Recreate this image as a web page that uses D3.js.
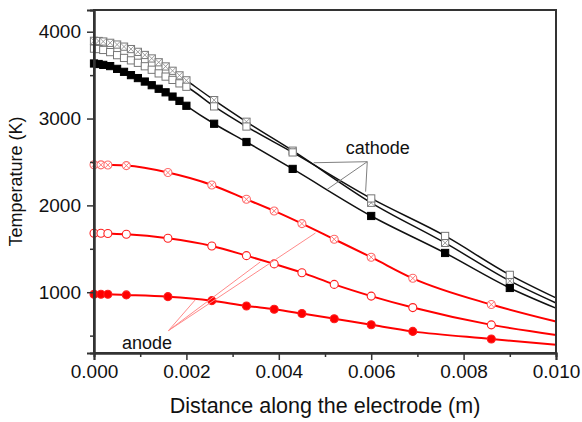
<!DOCTYPE html>
<html>
<head>
<meta charset="utf-8">
<script src="https://cdn.jsdelivr.net/npm/d3@7"></script>
<style>
  html, body { margin: 0; padding: 0; background: #fff; }
  svg { display: block; font-family: Arial, "Liberation Sans", sans-serif; }
</style>
</head>
<body>
<svg id="chart" width="582" height="422"></svg>
<script>
// cathode curves (K), sampled at cathodeX (m)
const cathodeX = [0, 0.0001, 0.0002, 0.00035, 0.0005, 0.00065, 0.0008, 0.00095, 0.0011, 0.00125,
  0.0014, 0.00155, 0.0017, 0.00185, 0.002, 0.0026, 0.0033, 0.0043, 0.006, 0.0076, 0.009];
const cathodeCrossed = [3895, 3893, 3887, 3872, 3852, 3828, 3800, 3768, 3732, 3692,
  3648, 3600, 3550, 3497, 3440, 3212, 2963, 2630, 2030, 1568, 1130];
const cathodeOpen = [3805, 3800, 3790, 3765, 3730, 3698, 3670, 3642, 3602, 3562,
  3520, 3483, 3445, 3405, 3366, 3140, 2908, 2610, 2080, 1648, 1200];
const cathodeFilled = [3634, 3628, 3618, 3604, 3572, 3538, 3500, 3466, 3426, 3384,
  3343, 3302, 3253, 3203, 3147, 2940, 2730, 2420, 1878, 1452, 1049];

// anode curves (K), sampled at anodeX (m)
const anodeX = [0, 0.00015, 0.0003, 0.0007, 0.0016, 0.00255, 0.0033, 0.0039, 0.0045, 0.0052, 0.006, 0.0069, 0.0086];
const anodeCrossed = [2468, 2467, 2465, 2458, 2378, 2235, 2070, 1936, 1790, 1610, 1403, 1160, 858];
const anodeOpen = [1679, 1679, 1676, 1667, 1621, 1533, 1421, 1326, 1225, 1090, 955, 823, 624];
const anodeFilled = [977, 977, 976, 969, 949, 903, 842, 804, 755, 695, 625, 549, 462];

// where the curves leave the frame at x = 0.010
const endX = 0.010;
const endValues = { cathodeCrossed: 876, cathodeOpen: 934, cathodeFilled: 816,
  anodeCrossed: 662, anodeOpen: 508, anodeFilled: 394 };

const xTicks = [0, 0.002, 0.004, 0.006, 0.008, 0.010];
const xMinor = [0.001, 0.003, 0.005, 0.007, 0.009];
const yTicks = [1000, 2000, 3000, 4000];
const yMinor = [500, 1500, 2500, 3500];

// annotation pointers: [apex, targets...] in data units
const cathodeNote = { label: "cathode", apex: [0.005915, 2503],
  targets: [[0.004757, 2491], [0.005048, 2185], [0.005879, 2158]] };
const anodeNote = { label: "anode", apex: [0.001612, 558],
  targets: [[0.00219, 911], [0.0036, 1349], [0.004794, 1682]] };

const svg = d3.select("#chart");
const margin = { left: 94, top: 10, right: 26, bottom: 69 };
const width = 582 - margin.left - margin.right;
const height = 422 - margin.top - margin.bottom;

const x = d3.scaleLinear().domain([0, 0.010]).range([0, width]);
const y = d3.scaleLinear().domain([300, 4250]).range([height, 0]);

const g = svg.append("g").attr("transform", `translate(${margin.left},${margin.top})`);

const series = [
  { key: "cathodeCrossed", xs: cathodeX, ys: cathodeCrossed, line: "#111", lw: 1.5, marker: "sqCross" },
  { key: "cathodeOpen", xs: cathodeX, ys: cathodeOpen, line: "#111", lw: 1.5, marker: "sqOpen" },
  { key: "cathodeFilled", xs: cathodeX, ys: cathodeFilled, line: "#111", lw: 1.5, marker: "sqFilled" },
  { key: "anodeCrossed", xs: anodeX, ys: anodeCrossed, line: "#ff0000", lw: 2, marker: "ciCross" },
  { key: "anodeOpen", xs: anodeX, ys: anodeOpen, line: "#ff0000", lw: 2, marker: "ciOpen" },
  { key: "anodeFilled", xs: anodeX, ys: anodeFilled, line: "#ff0000", lw: 2, marker: "ciFilled" },
];

const lineGen = d3.line()
  .x((d) => x(d[0]))
  .y((d) => y(d[1]))
  .curve(d3.curveMonotoneX);

const linesLayer = g.append("g");
const markersLayer = g.append("g");

series.forEach((s) => {
  const pts = s.xs.map((v, i) => [v, s.ys[i]]);
  linesLayer.append("path")
    .datum(pts.concat([[endX, endValues[s.key]]]))
    .attr("fill", "none")
    .attr("stroke", s.line)
    .attr("stroke-width", s.lw)
    .attr("d", lineGen);

  const m = markersLayer.append("g").selectAll("g").data(pts).enter().append("g")
    .attr("transform", (d) => `translate(${x(d[0])},${y(d[1])})`);
  const h = 3.6;
  if (s.marker.startsWith("sq")) {
    m.append("rect")
      .attr("x", -h).attr("y", -h).attr("width", 2 * h).attr("height", 2 * h)
      .attr("fill", s.marker === "sqFilled" ? "#000" : "#fff")
      .attr("stroke", s.marker === "sqFilled" ? "#000" : "#777")
      .attr("stroke-width", 1);
    if (s.marker === "sqCross") {
      m.append("path")
        .attr("d", `M${-h},${-h}L${h},${h}M${-h},${h}L${h},${-h}`)
        .attr("stroke", "#888").attr("stroke-width", 0.8);
    }
  } else {
    const r = 4;
    m.append("circle")
      .attr("r", r)
      .attr("fill", s.marker === "ciFilled" ? "#ff0000" : "#fff")
      .attr("stroke", s.marker === "ciCross" ? "#ff6a6a" : "#ff2020")
      .attr("stroke-width", 1.1);
    if (s.marker === "ciCross") {
      const c = r * 0.72;
      m.append("path")
        .attr("d", `M${-c},${-c}L${c},${c}M${-c},${c}L${c},${-c}`)
        .attr("stroke", "#ff6a6a").attr("stroke-width", 0.9);
    }
  }
});

// annotation pointers
function drawNote(note, color, textPos, anchor) {
  const layer = g.append("g");
  note.targets.forEach((t) => {
    layer.append("line")
      .attr("x1", x(note.apex[0])).attr("y1", y(note.apex[1]))
      .attr("x2", x(t[0])).attr("y2", y(t[1]))
      .attr("stroke", color).attr("stroke-width", 1);
  });
  layer.append("text")
    .attr("x", x(textPos[0])).attr("y", y(textPos[1]))
    .attr("text-anchor", anchor)
    .attr("font-size", 18)
    .attr("fill", "#111")
    .text(note.label);
}
drawNote(cathodeNote, "#808080", [0.00545, 2590], "start");
drawNote(anodeNote, "#ff8a8a", [0.000605, 350], "start");

// frame
g.append("rect")
  .attr("x", 0).attr("y", 0).attr("width", width).attr("height", height)
  .attr("fill", "none").attr("stroke", "#333").attr("stroke-width", 2);

// axes
const fmtX = d3.format(".3f");
g.append("g").attr("transform", `translate(0,${height})`)
  .call(d3.axisBottom(x).tickValues(xTicks).tickFormat(fmtX).tickSize(7).tickPadding(5));
g.append("g").attr("transform", `translate(0,${height})`)
  .call(d3.axisBottom(x).tickValues(xMinor).tickFormat("").tickSize(4));
g.append("g")
  .call(d3.axisLeft(y).tickValues(yTicks).tickFormat(d3.format("d")).tickSize(7).tickPadding(6));
g.append("g")
  .call(d3.axisLeft(y).tickValues(yMinor).tickFormat("").tickSize(4));

g.selectAll(".domain").attr("stroke", "#333").attr("stroke-width", 2);
g.selectAll(".tick line").attr("stroke", "#333").attr("stroke-width", 1.5);
g.selectAll(".tick text").attr("font-size", 19).attr("fill", "#111")
  .attr("font-family", "Arial, 'Liberation Sans', sans-serif");

// titles
svg.append("text")
  .attr("x", margin.left + width / 2).attr("y", 413)
  .attr("text-anchor", "middle")
  .attr("font-size", 21.5).attr("fill", "#111")
  .text("Distance along the electrode (m)");
svg.append("text")
  .attr("transform", `translate(22,${margin.top + height / 2}) rotate(-90)`)
  .attr("text-anchor", "middle")
  .attr("font-size", 18).attr("fill", "#111")
  .text("Temperature (K)");
</script>
</body>
</html>
